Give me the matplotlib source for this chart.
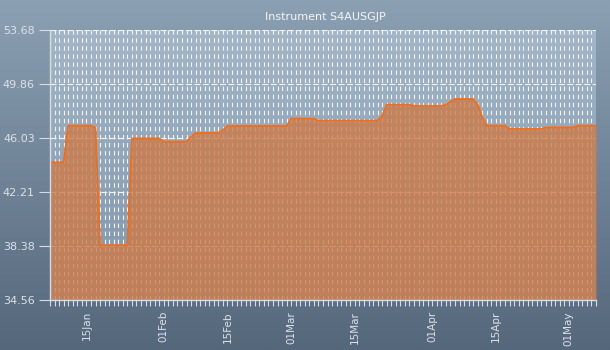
import numpy as np
import pandas as pd
import matplotlib
matplotlib.use("Agg")
import matplotlib.pyplot as plt
import matplotlib.dates as mdates

# data
dates = ["2019-01-07", "2019-01-10", "2019-01-11", "2019-01-16", "2019-01-17",
         "2019-01-18", "2019-01-24", "2019-01-25", "2019-01-31", "2019-02-01",
         "2019-02-06", "2019-02-07", "2019-02-08", "2019-02-13", "2019-02-14",
         "2019-02-15", "2019-02-28", "2019-03-01", "2019-03-06", "2019-03-07",
         "2019-03-20", "2019-03-21", "2019-03-22", "2019-03-27", "2019-03-28",
         "2019-04-03", "2019-04-04", "2019-04-05", "2019-04-06", "2019-04-10",
         "2019-04-11", "2019-04-12", "2019-04-13", "2019-04-17", "2019-04-18",
         "2019-04-25", "2019-04-26", "2019-05-02", "2019-05-03", "2019-05-07"]
values = [44.31, 44.31, 46.90, 46.90, 46.76,
          38.43, 38.43, 46.00, 46.00, 45.77,
          45.77, 46.12, 46.39, 46.39, 46.60,
          46.88, 46.88, 47.40, 47.40, 47.26,
          47.26, 47.60, 48.39, 48.39, 48.30,
          48.30, 48.39, 48.60, 48.79, 48.79,
          48.40, 47.50, 46.90, 46.90, 46.67,
          46.67, 46.78, 46.78, 46.90, 46.90]
y_ticks = [34.56, 38.38, 42.21, 46.03, 49.86, 53.68]
title = "Instrument S4AUSGJP"

x = pd.to_datetime(dates)
plt.rcParams["lines.scale_dashes"] = False

fig = plt.figure(figsize=(6.1, 3.5), dpi=100)

# figure background gradient
bg = fig.add_axes([0, 0, 1, 1], zorder=-10)
grad = np.linspace(0, 1, 256).reshape(-1, 1)
top_c = np.array([0x8c, 0xa0, 0xb3]) / 255
bot_c = np.array([0x54, 0x67, 0x7b]) / 255
img = top_c * (1 - grad[..., None]) + bot_c * grad[..., None]
bg.imshow(img, aspect="auto", extent=[0, 1, 0, 1])
bg.axis("off")

ax = fig.add_axes([50 / 610, 50 / 350, 546 / 610, 270 / 350])
ax.patch.set_alpha(0)
a_top = np.array([0xa3, 0xb6, 0xc8]) / 255
a_bot = np.array([0x80, 0x95, 0xaa]) / 255
aimg = a_top * (1 - grad[..., None]) + a_bot * grad[..., None]
ax.imshow(aimg, aspect="auto", extent=[0, 1, 0, 1], transform=ax.transAxes, zorder=0)

ax.fill_between(x, values, y_ticks[0], color="#cd7b47", alpha=0.8, lw=0, zorder=3)
ax.plot(x, values, color="#f26d1a", lw=1.3, zorder=4)

ax.set_xlim(pd.Timestamp("2019-01-07"), pd.Timestamp("2019-05-07"))
ax.set_ylim(y_ticks[0], y_ticks[-1])
ax.set_yticks(y_ticks)
ax.set_yticklabels(["%.2f" % v for v in y_ticks])

ax.xaxis.set_major_locator(mdates.DayLocator(bymonthday=[1, 15]))
ax.xaxis.set_minor_locator(mdates.DayLocator())
ax.xaxis.set_major_formatter(mdates.DateFormatter("%d%b"))
plt.setp(ax.get_xticklabels(), rotation=90)

ax.grid(True, axis="x", which="both", color="#f2f4f6", lw=0.8,
        linestyle=(0, (3.2, 2.6)), zorder=2)
ax.grid(True, axis="y", which="major", color="#f2f4f6", lw=0.8,
        linestyle=(0, (4.3, 1.8)), zorder=2)

for s in ["top", "right"]:
    ax.spines[s].set_visible(False)
for s in ["left", "bottom"]:
    ax.spines[s].set_color("#d5dce3")
    ax.spines[s].set_linewidth(1.0)
    ax.spines[s].set_zorder(5)

ax.tick_params(axis="x", which="both", length=4, width=0.8, color="#d5dce3",
               labelcolor="#dde2e8", labelsize=7.5, pad=4)
ax.tick_params(axis="y", length=8, width=0.8, color="#d5dce3",
               labelcolor="#dde2e8", labelsize=8, pad=3)

fig.text(325 / 610, 1 - 17 / 350, title, ha="center", va="center",
         color="#f4f6f8", fontsize=8)

fig.savefig("out.png", dpi=100)
